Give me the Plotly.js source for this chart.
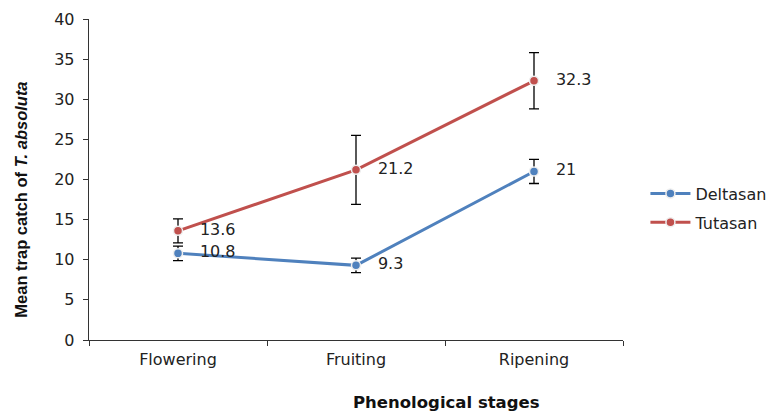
<!DOCTYPE html>
<html>
<head>
<meta charset="utf-8">
<script src="https://cdn.plot.ly/plotly-3.0.1.min.js"></script>
<style>html,body{margin:0;padding:0;background:#fff;}#chart{width:771px;height:412px;}</style>
</head>
<body>
<div id="chart"></div>
<script>
const categories = ["Flowering", "Fruiting", "Ripening"];
const deltasanValues = [10.8, 9.3, 21];
const deltasanErrors = [0.9, 0.9, 1.5];
const tutasanValues = [13.6, 21.2, 32.3];
const tutasanErrors = [1.5, 4.3, 3.5];
const seriesNames = ["Deltasan", "Tutasan"];
const yTitle = "Mean trap catch of <i>T. absoluta</i>";
const xTitle = "Phenological stages";

const FONT = "DejaVu Sans, Verdana, sans-serif";

function mkTrace(name, vals, errs, color, grp) {
  return {
    type: "scatter",
    mode: "lines+markers+text",
    name: name,
    legendgroup: grp,
    x: categories,
    y: vals,
    text: vals.map(v => "   " + v),
    textposition: "middle right",
    textfont: {family: FONT, size: 16, color: "#222"},
    line: {color: color, width: 3},
    marker: {color: color, size: 9, line: {color: "#eeeeee", width: 1.5}},
    error_y: {type: "data", array: errs, visible: true, color: "#000", thickness: 1.3, width: 5},
    cliponaxis: false
  };
}

const data = [
  mkTrace(seriesNames[0], deltasanValues, deltasanErrors, "#4F81BD", "a"),
  mkTrace(seriesNames[1], tutasanValues, tutasanErrors, "#C0504D", "b")
];

const layout = {
  width: 771, height: 412,
  margin: {l: 89, r: 148, t: 19, b: 72, autoexpand: false},
  paper_bgcolor: "#fff", plot_bgcolor: "#fff",
  font: {family: FONT, size: 16, color: "#222"},
  showlegend: true,
  legend: {x: 1.042, xanchor: "left", y: 0.411, yanchor: "middle",
           traceorder: "grouped", tracegroupgap: 5,
           font: {family: FONT, size: 16, color: "#222"}, itemwidth: 40},
  xaxis: {
    type: "category", range: [-0.5, 2.5], showline: true, linecolor: "#333", linewidth: 1.3,
    ticks: "outside", tickson: "boundaries", ticklen: 5, tickcolor: "#333",
    showgrid: false, zeroline: false, tickfont: {family: FONT, size: 16, color: "#222"},
    ticklabelstandoff: 4, automargin: false
  },
  yaxis: {
    range: [0, 40], dtick: 5, showline: true, linecolor: "#333", linewidth: 1.3,
    ticks: "outside", ticklen: 5, tickcolor: "#333", showgrid: false, zeroline: false,
    tickfont: {family: FONT, size: 16, color: "#222"}, ticklabelstandoff: 5, automargin: false
  },
  annotations: [
    {text: "<b>" + xTitle + "</b>", xref: "paper", yref: "paper", x: 0.67, y: -0.195,
     xanchor: "center", yanchor: "middle", showarrow: false,
     font: {family: FONT, size: 16.5, color: "#111"}},
    {text: "<b>" + yTitle + "</b>", xref: "paper", yref: "paper", x: -0.128, y: 0.436,
     xanchor: "center", yanchor: "middle", textangle: -90, showarrow: false,
     font: {family: "Liberation Sans, Arial, sans-serif", size: 16.5, color: "#111"}}
  ]
};

Plotly.newPlot("chart", data, layout, {displayModeBar: false, staticPlot: true});
</script>
</body>
</html>
